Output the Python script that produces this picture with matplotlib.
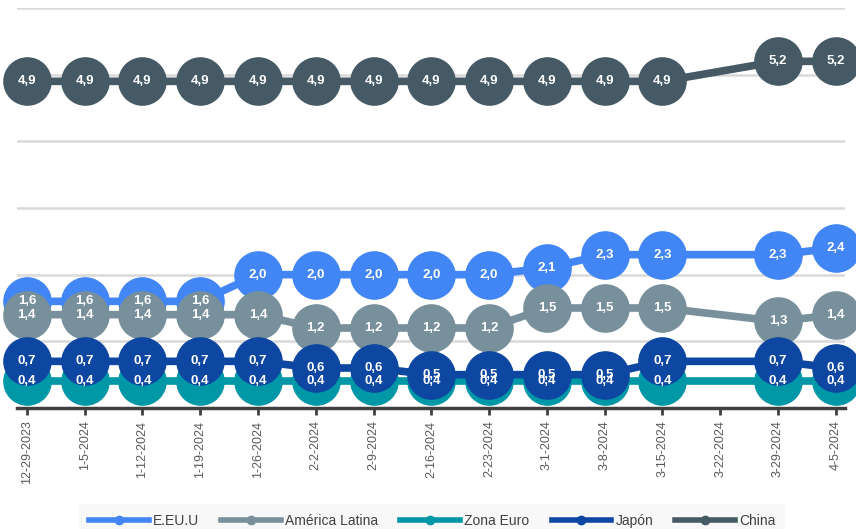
import numpy as np
import matplotlib
matplotlib.use("Agg")
import matplotlib.pyplot as plt
from matplotlib import font_manager

names = {f.name for f in font_manager.fontManager.ttflist}
narrow = 'Liberation Sans Narrow' if 'Liberation Sans Narrow' in names else 'Liberation Sans'
plt.rcParams['font.family'] = [narrow, 'DejaVu Sans']

dates = ["12-29-2023", "1-5-2024", "1-12-2024", "1-19-2024", "1-26-2024", "2-2-2024",
         "2-9-2024", "2-16-2024", "2-23-2024", "3-1-2024", "3-8-2024", "3-15-2024",
         "3-22-2024", "3-29-2024", "4-5-2024"]
nan = np.nan
eeuu = [1.6, 1.6, 1.6, 1.6, 2.0, 2.0, 2.0, 2.0, 2.0, 2.1, 2.3, 2.3, nan, 2.3, 2.4]
amlat = [1.4, 1.4, 1.4, 1.4, 1.4, 1.2, 1.2, 1.2, 1.2, 1.5, 1.5, 1.5, nan, 1.3, 1.4]
zona_euro = [0.4, 0.4, 0.4, 0.4, 0.4, 0.4, 0.4, 0.4, 0.4, 0.4, 0.4, 0.4, nan, 0.4, 0.4]
japon = [0.7, 0.7, 0.7, 0.7, 0.7, 0.6, 0.6, 0.5, 0.5, 0.5, 0.5, 0.7, nan, 0.7, 0.6]
china = [4.9, 4.9, 4.9, 4.9, 4.9, 4.9, 4.9, 4.9, 4.9, 4.9, 4.9, 4.9, nan, 5.2, 5.2]

series = [("E.EU.U", eeuu, "#4285F4"),
          ("América Latina", amlat, "#78909C"),
          ("Zona Euro", zona_euro, "#0097A7"),
          ("Japón", japon, "#0D47A1"),
          ("China", china, "#455A64")]

W, H = 856, 529
fig = plt.figure(figsize=(W / 100, H / 100), dpi=100)
ax = fig.add_axes([17 / W, 1 - 408 / H, (845 - 17) / W, 400 / H])

x = np.arange(len(dates))
for i, (name, vals, col) in enumerate(series):
    v = np.array(vals, dtype=float)
    m = ~np.isnan(v)
    ax.plot(x[m], v[m], color=col, lw=5.5, marker='o', ms=34, mec=col, mfc=col,
            clip_on=False, zorder=3 + i, label=name)

for name, vals, col in series:
    for xi, v in zip(x, vals):
        if np.isnan(v):
            continue
        ax.text(xi, v, f"{v:.1f}".replace('.', ','), ha='center', va='center',
                color='white', fontsize=9.5, fontweight='bold', zorder=20, clip_on=False)

ax.set_ylim(0, 6)
ax.set_xlim(-0.17, 14.16)
ax.set_yticks(np.arange(0, 7, 1))
ax.yaxis.grid(True, color='#d9d9d9', lw=1.8)
ax.set_axisbelow(True)
ax.tick_params(axis='y', left=False, labelleft=False)
ax.set_xticks(x)
ax.set_xticklabels(dates, rotation=90, fontsize=9, color='#595959')
ax.tick_params(axis='x', length=5, width=2, color='#404040', pad=4)
for s in ['top', 'right', 'left']:
    ax.spines[s].set_visible(False)
ax.spines['bottom'].set_color('#404040')
ax.spines['bottom'].set_linewidth(2.5)
ax.spines['bottom'].set_zorder(1)

handles = [plt.Line2D([], [], color=c, lw=4, marker='o', ms=6) for _, _, c in series]
leg = fig.legend(handles, [n for n, _, _ in series], loc='lower center',
                 bbox_to_anchor=(0.505, -0.03), ncol=5, frameon=True, fontsize=10,
                 handlelength=4.3, columnspacing=1.6, handletextpad=0.3,
                 borderpad=0.7, labelcolor='#404040')
leg.get_frame().set_facecolor('#f7f7f7')
leg.get_frame().set_edgecolor('none')
leg.get_frame().set_boxstyle('square', pad=0)

fig.savefig("out.png", dpi=100)
